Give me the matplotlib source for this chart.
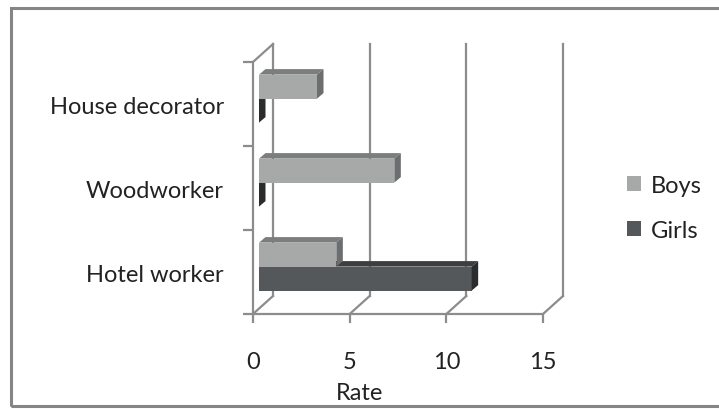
import matplotlib.pyplot as plt
from matplotlib.patches import Polygon, Patch, Rectangle

plt.rcParams['font.family'] = ['Lato', 'DejaVu Sans']

# data
categories = ['Hotel worker', 'Woodworker', 'House decorator']
boys = [4, 7, 3]
girls = [11, 0, 0]
series_names = ['Boys', 'Girls']
xticks = [0, 5, 10, 15]
xlabel = 'Rate'

# colours (front, top, side)
boys_col = ('#a7a9a9', '#7c7e7e', '#6b6d6e')
girls_col = ('#54585a', '#3c3e3f', '#2a2c2d')
line_col = '#8c8c8c'
FS = 17

W, H = 719, 410
fig = plt.figure(figsize=(W / 100, H / 100), dpi=100)

# front plane of the 3d box, in pixels
x0, x1, y0, y1 = 253, 543, 315, 63
ax = fig.add_axes([x0 / W, 1 - y0 / H, (x1 - x0) / W, (y0 - y1) / H])
ax.set_xlim(0, 15)
ax.set_ylim(0, 3)
ux = (x1 - x0) / 15.0   # px per unit
uy = (y0 - y1) / 3.0

def px(dx, dy):
    return dx / ux, dy / uy

wall_dx, wall_dy = px(20, 18)
shift_x, shift_y = px(6, 5.4)
dep_x, dep_y = px(6.5, 5.5)
bar_h = 24 / uy
gap = 18 / uy

# walls / gridlines
lw = 1.6
for t in xticks:
    ax.plot([t, t + wall_dx], [0, wall_dy], color=line_col, lw=lw, clip_on=False, zorder=1)
    ax.plot([t + wall_dx] * 2, [wall_dy, 3 + wall_dy], color=line_col, lw=lw, clip_on=False, zorder=1)
ax.plot([0, wall_dx], [3, 3 + wall_dy], color=line_col, lw=lw, clip_on=False, zorder=1)

for s in ['top', 'right']:
    ax.spines[s].set_visible(False)
for s in ['left', 'bottom']:
    ax.spines[s].set_color(line_col)
    ax.spines[s].set_linewidth(lw)
ax.patch.set_visible(False)

# bars, girls first so boys sit on top
def draw_bars(vals, offs, cols):
    for i, v in enumerate(vals):
        bot = i + gap + shift_y + offs
        top = bot + bar_h
        ax.barh(bot + bar_h / 2, v, height=bar_h, left=shift_x, color=cols[0], zorder=3)
        l, r = shift_x, shift_x + v
        ax.add_patch(Polygon([(l, top), (r, top), (r + dep_x, top + dep_y), (l + dep_x, top + dep_y)],
                             closed=True, fc=cols[1], ec='none', zorder=3, clip_on=False))
        ax.add_patch(Polygon([(r, bot), (r, top), (r + dep_x, top + dep_y), (r + dep_x, bot + dep_y)],
                             closed=True, fc=cols[2], ec='none', zorder=3, clip_on=False))

draw_bars(girls, 0, girls_col)
draw_bars(boys, bar_h, boys_col)

# ticks
ax.set_xticks(xticks)
ax.set_xticklabels([str(t) for t in xticks], fontsize=FS, color='#222222')
ax.tick_params(axis='x', direction='out', length=6.5, width=lw, color=line_col, pad=20)
ax.set_yticks([0, 1, 2, 3])
ax.set_yticklabels([])
ax.tick_params(axis='y', which='major', direction='out', length=7, width=lw, color=line_col)
ax.set_yticks([0.5, 1.5, 2.5], minor=True)
ax.set_yticklabels(categories, minor=True, fontsize=FS, color='#222222')
ax.tick_params(axis='y', which='minor', length=0, pad=21)

ax.set_xlabel(xlabel, fontsize=FS, color='#222222')
ax.xaxis.set_label_coords((360 - x0) / (x1 - x0), -(383 - y0) / (y0 - y1))

# legend
handles = [Patch(fc=boys_col[0]), Patch(fc=girls_col[0])]
fig.legend(handles, series_names, loc='center left', bbox_to_anchor=(606 / W, 1 - 209 / H),
           frameon=False, fontsize=FS, handlelength=0.6, handleheight=0.6,
           handletextpad=0.4, labelspacing=1.0, labelcolor='#222222')

# outer frame
fig.add_artist(Rectangle((11 / W, 1 - 407 / H), (740 - 11) / W, (407 - 9) / H, fill=False,
                         ec='#858585', lw=2.2, transform=fig.transFigure, zorder=5))

fig.savefig('out.png', dpi=100)
